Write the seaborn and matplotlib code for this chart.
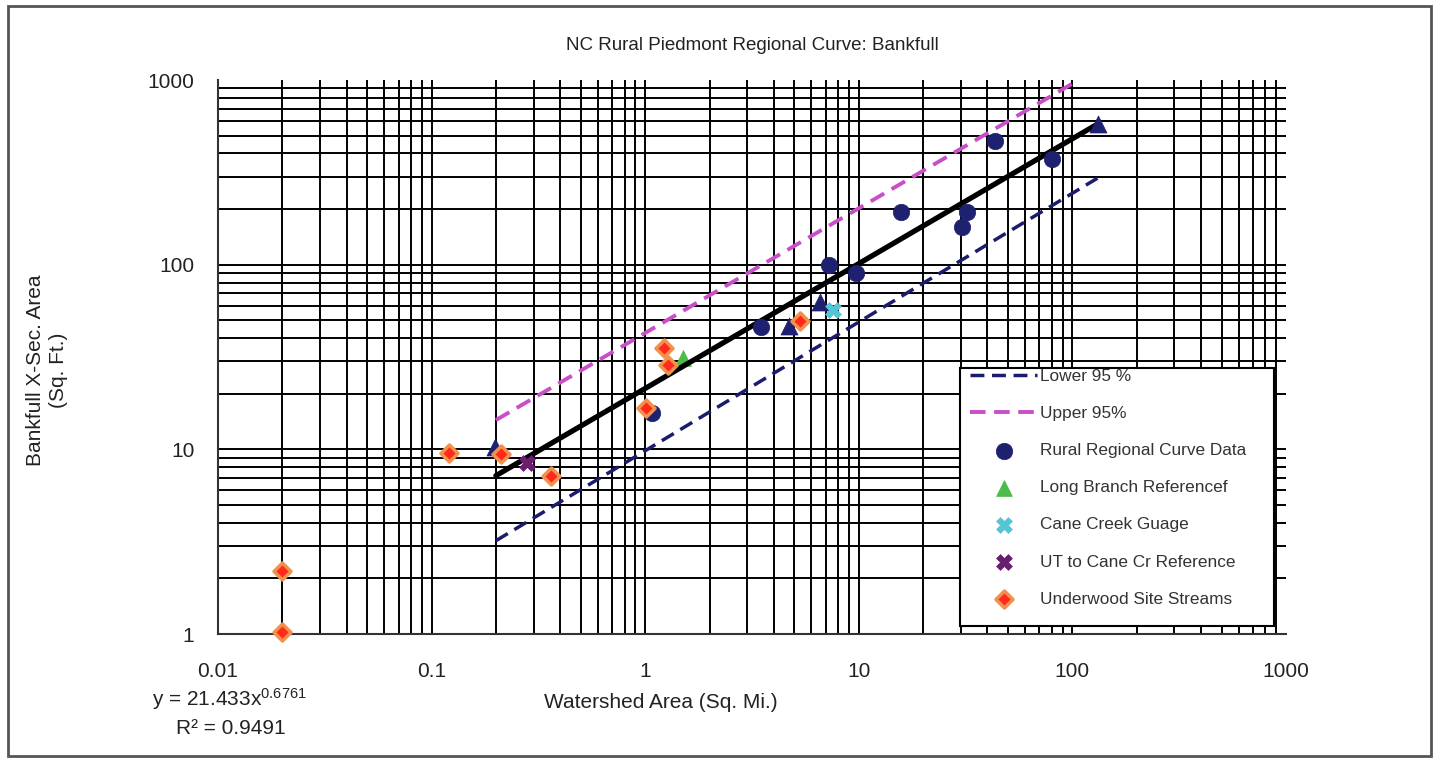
import numpy as np
import pandas as pd
import matplotlib.pyplot as plt
import seaborn as sns
from matplotlib.patches import Rectangle
from matplotlib.ticker import LogLocator, NullFormatter

# valores (área da bacia em mi², área da seção em ft²)
rural_x = [1.08, 3.48, 7.25, 9.7, 15.8, 30.4, 32.1, 43.4, 80.2]
rural_y = [15.7, 45.9, 99.5, 90, 193, 160, 193, 467, 373]
rural_tri_x = [0.198, 4.71, 6.58, 131.8]
rural_tri_y = [10.3, 46.5, 62.8, 577]
long_x = [1.50]
long_y = [31.2]
cane_x = [7.57]
cane_y = [56.8]
ut_x = [0.28]
ut_y = [8.43]
under_x = [0.02, 0.02, 0.121, 0.211, 0.362, 1.01, 1.22, 1.28, 5.31]
under_y = [2.19, 1.02, 9.55, 9.43, 7.17, 16.7, 35.4, 28.6, 49.5]

fit_x = [0.2, 131]
fit_y = [7.2, 577]
upper_x = [0.2, 103]
upper_y = [14.4, 975]
lower_x = [0.2, 131]
lower_y = [3.2, 294]

x_ticks = [0.01, 0.1, 1, 10, 100, 1000]
x_tick_labels = ['0.01', '0.1', '1', '10', '100', '1000']
y_ticks = [1, 10, 100, 1000]
y_tick_labels = ['1', '10', '100', '1000']

sns.set_style('white')
plt.rcParams['font.family'] = ['Liberation Sans', 'DejaVu Sans']
plt.rcParams['mathtext.fontset'] = 'custom'
plt.rcParams['mathtext.rm'] = 'Liberation Sans'

W, H = 1437, 760
fig = plt.figure(figsize=(W / 100, H / 100), dpi=100)
ax = fig.add_axes([218 / W, 1 - 634 / H, (1286 - 218) / W, (634 - 80) / H])
ax.set_xscale('log')
ax.set_yscale('log')
ax.set_xlim(0.01, 1000)
ax.set_ylim(1, 1000)

navy = '#1e2070'
dash = (0, (4, 2.2))

sns.lineplot(x=lower_x, y=lower_y, color='#1c1c6c', lw=2.5, linestyle=dash, ax=ax, label='Lower 95 %', zorder=3)
sns.lineplot(x=upper_x, y=upper_y, color='#c94fc9', lw=2.8, linestyle=dash, ax=ax, label='Upper 95%', zorder=3)
sns.lineplot(x=fit_x, y=fit_y, color='black', lw=3.8, ax=ax, zorder=3)

sns.scatterplot(x=rural_x, y=rural_y, marker='o', color=navy, s=140, edgecolor=navy, linewidth=0.5,
                ax=ax, label='Rural Regional Curve Data', zorder=4)
sns.scatterplot(x=rural_tri_x, y=rural_tri_y, marker='^', color=navy, s=150, edgecolor=navy, linewidth=0.5,
                ax=ax, zorder=4)
sns.scatterplot(x=long_x, y=long_y, marker='^', color='#4cbb4c', s=130, edgecolor='#4cbb4c', linewidth=0.5,
                ax=ax, label='Long Branch Referencef', zorder=2.9)
sns.scatterplot(x=cane_x, y=cane_y, marker='X', color='#52c6d4', s=130, edgecolor='#52c6d4', linewidth=0.5,
                ax=ax, label='Cane Creek Guage', zorder=4)
sns.scatterplot(x=ut_x, y=ut_y, marker='X', color='#6a1e6e', s=130, edgecolor='#6a1e6e', linewidth=0.5,
                ax=ax, label='UT to Cane Cr Reference', zorder=4)
sns.scatterplot(x=under_x, y=under_y, marker='D', color='#ff2a1c', s=75, edgecolor='#f0924e', linewidth=2.5,
                ax=ax, label='Underwood Site Streams', zorder=4, clip_on=False)

# grade preta em todos os ticks (maiores e menores)
ax.set_xticks(x_ticks, x_tick_labels)
ax.set_yticks(y_ticks, y_tick_labels)
ax.xaxis.set_minor_locator(LogLocator(base=10, subs=np.arange(2, 10), numticks=30))
ax.yaxis.set_minor_locator(LogLocator(base=10, subs=np.arange(2, 10), numticks=30))
ax.xaxis.set_minor_formatter(NullFormatter())
ax.yaxis.set_minor_formatter(NullFormatter())
ax.grid(True, which='both', color='black', lw=1.4)
ax.set_axisbelow(True)

ax.tick_params(which='major', direction='out', length=8, width=1.3, color='#333',
               labelsize=15, labelcolor='#222')
ax.tick_params(axis='x', which='major', pad=12)
ax.tick_params(axis='y', which='major', pad=9)
ax.tick_params(which='minor', length=0)
for side in ['top', 'right']:
    ax.spines[side].set_visible(False)
for side in ['left', 'bottom']:
    ax.spines[side].set_color('#333')
    ax.spines[side].set_linewidth(1.5)

# legenda com moldura própria
handles, labels = ax.get_legend_handles_labels()
if ax.get_legend():
    ax.get_legend().remove()
x0 = (960 - 218) / 1068
y0 = (634 - 626) / 554
ax.add_patch(Rectangle((x0, y0), (1274 - 960) / 1068, (626 - 368) / 554, transform=ax.transAxes,
                       facecolor='white', edgecolor='black', lw=1.5, zorder=5))
leg = ax.legend(handles, labels, loc='upper left', bbox_to_anchor=((970 - 218) / 1068, (634 - 369) / 554),
                frameon=False, fontsize=12.4, labelspacing=1.28, handlelength=3.9, handletextpad=0.15,
                borderpad=0, borderaxespad=0, scatterpoints=1, labelcolor='#333')
leg.set_zorder(6)

fig.text(752 / W, 1 - 46 / H, 'NC Rural Piedmont Regional Curve: Bankfull', ha='center', va='center',
         fontsize=13.5, color='#222')
fig.text(661 / W, 1 - 703 / H, 'Watershed Area (Sq. Mi.)', ha='center', va='center', fontsize=15, color='#222')
fig.text(47 / W, 1 - 370 / H, 'Bankfull X-Sec. Area\n(Sq. Ft.)', ha='center', va='center', rotation=90,
         fontsize=15, color='#222', linespacing=1.25, multialignment='center')
fig.text(229 / W, 1 - 699 / H, r'y = 21.433x$\mathregular{^{0.6761}}$', ha='center', va='center',
         fontsize=15, color='#222')
fig.text(231 / W, 1 - 729 / H, 'R² = 0.9491', ha='center', va='center', fontsize=15, color='#222')

fig.patches.append(Rectangle((8 / W, 4 / H), (1431 - 8) / W, (756 - 6) / H, transform=fig.transFigure,
                             fill=False, edgecolor='#555', lw=2))

# tirar a linha de grade nos limites superiores (1000)
fig.canvas.draw()
for t in ax.xaxis.get_major_ticks():
    if np.isclose(t.get_loc(), 1000):
        t.gridline.set_visible(False)
for t in ax.yaxis.get_major_ticks():
    if np.isclose(t.get_loc(), 1000):
        t.gridline.set_visible(False)

fig.savefig('out.png', dpi=100)
